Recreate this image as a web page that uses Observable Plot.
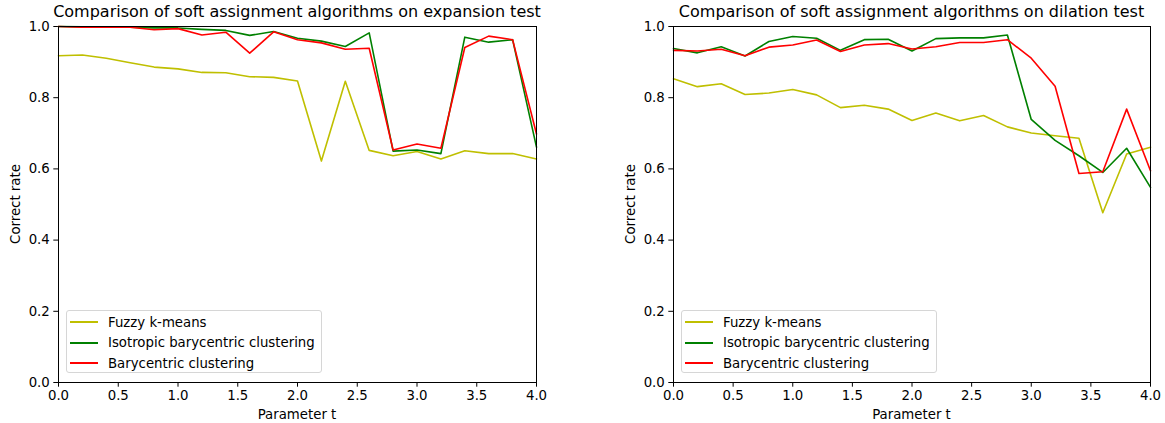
<!DOCTYPE html>
<html>
<head>
<meta charset="utf-8">
<script src="https://cdn.jsdelivr.net/npm/d3@7"></script>
<script src="https://cdn.jsdelivr.net/npm/@observablehq/plot@0.6"></script>
<style>
  html, body { margin: 0; padding: 0; background: #fff; }
  #wrap { position: relative; width: 1165px; height: 423px; overflow: hidden; font-family: "DejaVu Sans", sans-serif; color: #000; }
  .panel { position: absolute; top: 0; }
  .title { position: absolute; top: 2px; font-size: 16px; white-space: nowrap; transform: translateX(-50%); }
  .xlabel { position: absolute; top: 407px; font-size: 13.3px; white-space: nowrap; transform: translateX(-50%); }
  .ylabel { position: absolute; font-size: 13.3px; white-space: nowrap; transform: translate(-50%, -50%) rotate(-90deg); }
  .legend { position: absolute; top: 310px; height: 63px; border: 1px solid #d6d6d6; border-radius: 3px; background: rgba(255,255,255,0.8); font-size: 13.3px; box-sizing: border-box; }
  .row { position: absolute; left: 0; height: 20px; display: flex; align-items: center; white-space: nowrap; }
  .swatch { display: inline-block; width: 28px; height: 2px; margin-left: 3px; margin-right: 10px; }
</style>
</head>
<body>
<div id="wrap"></div>
<script>
// ---- data ----
const tValues = [0.0,0.2,0.4,0.6,0.8,1.0,1.2,1.4,1.6,1.8,2.0,2.2,2.4,2.6,2.8,3.0,3.2,3.4,3.6,3.8,4.0];

const seriesNames = ["Fuzzy k-means", "Isotropic barycentric clustering", "Barycentric clustering"];
const seriesColors = ["#bfbf00", "#008000", "#ff0000"];

// expansion test
const expFuzzy = [0.918,0.920,0.911,0.898,0.886,0.881,0.871,0.870,0.859,0.857,0.847,0.622,0.846,0.652,0.637,0.649,0.628,0.651,0.643,0.643,0.628];
const expIsotropic = [1.000,0.999,0.999,0.998,0.996,0.996,0.992,0.989,0.975,0.986,0.967,0.959,0.944,0.982,0.650,0.653,0.643,0.970,0.956,0.963,0.661];
const expBarycentric = [1.000,0.998,0.998,0.998,0.991,0.994,0.976,0.984,0.925,0.985,0.963,0.954,0.936,0.939,0.653,0.670,0.658,0.941,0.973,0.963,0.698];

// dilation test
const dilFuzzy = [0.853,0.831,0.839,0.809,0.813,0.823,0.808,0.772,0.779,0.768,0.736,0.757,0.735,0.750,0.718,0.701,0.693,0.686,0.477,0.642,0.661];
const dilIsotropic = [0.938,0.926,0.943,0.917,0.958,0.972,0.967,0.933,0.963,0.964,0.931,0.966,0.968,0.968,0.976,0.739,0.680,0.637,0.590,0.658,0.548];
const dilBarycentric = [0.933,0.931,0.936,0.918,0.942,0.948,0.962,0.930,0.948,0.952,0.937,0.943,0.955,0.955,0.963,0.911,0.832,0.587,0.592,0.768,0.595];

const xTicks = [0,0.5,1,1.5,2,2.5,3,3.5,4];
const yTicks = [0,0.2,0.4,0.6,0.8,1.0];

const panels = [
  {title: "Comparison of soft assignment algorithms on expansion test", series: [expFuzzy, expIsotropic, expBarycentric], left: 0, width: 582, marginRight: 46},
  {title: "Comparison of soft assignment algorithms on dilation test", series: [dilFuzzy, dilIsotropic, dilBarycentric], left: 615, width: 550, marginRight: 15}
];

const wrap = document.getElementById("wrap");
const marginLeft = 58, marginTop = 26, marginBottom = 41, H = 423;

panels.forEach(p => {
  const rows = [];
  p.series.forEach((vals, si) => vals.forEach((v, i) => rows.push({t: tValues[i], v, s: seriesNames[si]})));

  const chart = Plot.plot({
    width: p.width,
    height: H,
    marginLeft, marginRight: p.marginRight, marginTop, marginBottom,
    style: {fontFamily: "DejaVu Sans, sans-serif", fontSize: "13.3px", color: "#000", background: "transparent", overflow: "visible"},
    x: {domain: [0, 4], ticks: xTicks, tickFormat: d3.format(".1f"), tickSize: 4.7, tickPadding: 3, label: null},
    y: {domain: [0, 1], ticks: yTicks, tickFormat: d3.format(".1f"), tickSize: 4.7, tickPadding: 4, label: null},
    color: {domain: seriesNames, range: seriesColors},
    marks: [
      ...seriesNames.map((name, si) => Plot.line(rows.filter(r => r.s === name), {x: "t", y: "v", stroke: "s", strokeWidth: 1.6})),
      Plot.frame({stroke: "#000", strokeWidth: 1})
    ]
  });
  const holder = document.createElement("div");
  holder.className = "panel";
  holder.style.left = p.left + "px";
  holder.appendChild(chart);
  wrap.appendChild(holder);

  const plotLeft = p.left + marginLeft;
  const plotRight = p.left + p.width - p.marginRight;
  const cx = (plotLeft + plotRight) / 2;

  const title = document.createElement("div");
  title.className = "title";
  title.style.left = cx + "px";
  title.textContent = p.title;
  wrap.appendChild(title);

  const xl = document.createElement("div");
  xl.className = "xlabel";
  xl.style.left = cx + "px";
  xl.textContent = "Parameter t";
  wrap.appendChild(xl);

  const yl = document.createElement("div");
  yl.className = "ylabel";
  yl.style.left = (plotLeft - 43) + "px";
  yl.style.top = ((marginTop + H - marginBottom) / 2) + "px";
  yl.textContent = "Correct rate";
  wrap.appendChild(yl);

  const lg = document.createElement("div");
  lg.className = "legend";
  lg.style.left = (plotLeft + 8) + "px";
  lg.style.width = "256px";
  seriesNames.forEach((name, si) => {
    const r = document.createElement("div");
    r.className = "row";
    r.style.top = (1 + si * 20.5) + "px";
    const sw = document.createElement("span");
    sw.className = "swatch";
    sw.style.background = seriesColors[si];
    r.appendChild(sw);
    const tx = document.createElement("span");
    tx.textContent = name;
    r.appendChild(tx);
    lg.appendChild(r);
  });
  wrap.appendChild(lg);
});
</script>
</body>
</html>
